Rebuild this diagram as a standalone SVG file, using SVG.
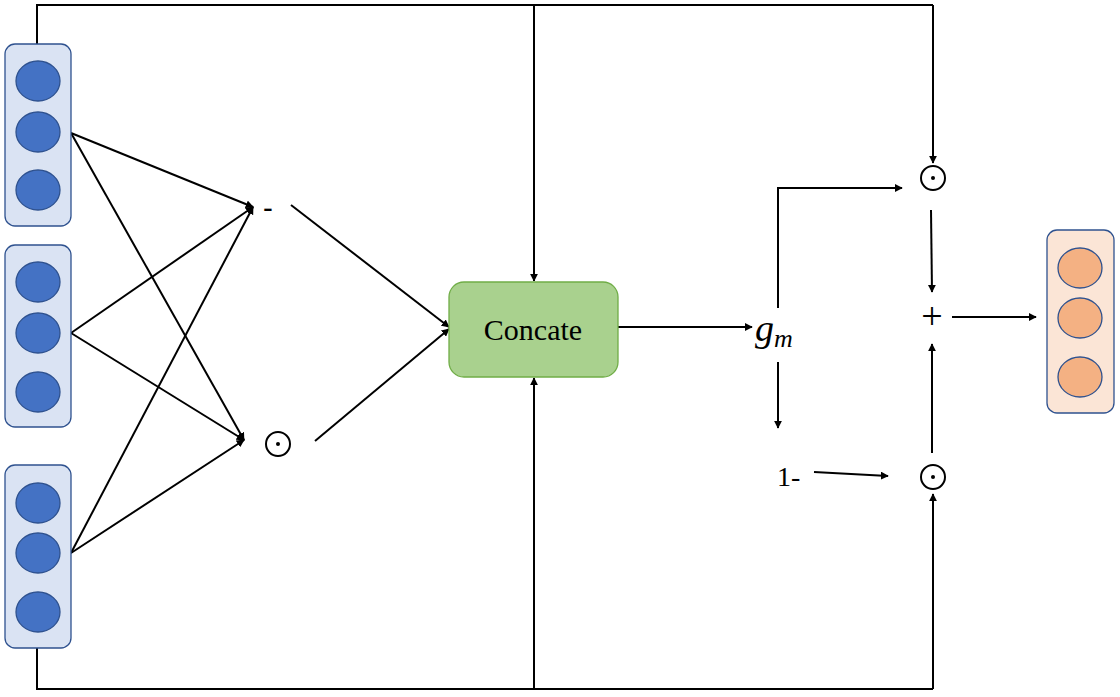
<svg xmlns="http://www.w3.org/2000/svg" width="1120" height="697" viewBox="0 0 1120 697">
<defs>
<marker id="ah" viewBox="0 0 10 10" refX="9" refY="5" markerWidth="8" markerHeight="8" markerUnits="userSpaceOnUse" orient="auto">
<path d="M0,0 L10,5 L0,10 z" fill="#000"/>
</marker>
<style>
.vec{fill:#dae3f3;stroke:#2f528f;stroke-width:1.3}
.dot{fill:#4472c4;stroke:#2f528f;stroke-width:1.3}
.out{fill:#fbe5d6;stroke:#2f528f;stroke-width:1.3}
.odot{fill:#f4b183;stroke:#2f528f;stroke-width:1.3}
.ln{fill:none;stroke:#000;stroke-width:2}
.ar{fill:none;stroke:#000;stroke-width:2;marker-end:url(#ah)}
.op{fill:none;stroke:#000;stroke-width:2}
.t{font-family:"Liberation Serif",serif;fill:#000}
</style>
</defs>
<rect width="1120" height="697" fill="#fff"/>

<g id="connectors">
<polyline class="ln" points="37,44 37,5 933,5"/>
<line class="ar" x1="534" y1="5" x2="534" y2="281"/>
<line class="ar" x1="933" y1="5" x2="933" y2="163"/>
<polyline class="ln" points="37,648 37,689 933,689"/>
<line class="ar" x1="534" y1="689" x2="534" y2="378"/>
<line class="ar" x1="933" y1="689" x2="933" y2="494"/>
<line class="ar" x1="71" y1="133" x2="253" y2="207"/>
<line class="ar" x1="71" y1="133" x2="244" y2="440"/>
<line class="ar" x1="71" y1="333" x2="253" y2="207"/>
<line class="ar" x1="71" y1="333" x2="244" y2="440"/>
<line class="ar" x1="71" y1="553" x2="253" y2="207"/>
<line class="ar" x1="71" y1="553" x2="244" y2="440"/>
<line class="ar" x1="291" y1="205" x2="449" y2="327"/>
<line class="ar" x1="315" y1="441" x2="449" y2="329"/>
<line class="ar" x1="618" y1="327" x2="752" y2="327"/>
<polyline class="ar" points="778,308 778,188 902,188"/>
<line class="ar" x1="778" y1="362" x2="778" y2="428"/>
<line class="ar" x1="814" y1="472" x2="888" y2="476"/>
<line class="ar" x1="931" y1="210" x2="932" y2="292"/>
<line class="ar" x1="932" y1="453" x2="932" y2="344"/>
<line class="ar" x1="952" y1="317" x2="1036" y2="317"/>
</g>

<g id="vec1">
<rect class="vec" x="5" y="44" width="66" height="182" rx="10"/>
<ellipse class="dot" cx="38" cy="81" rx="22" ry="20"/>
<ellipse class="dot" cx="38" cy="132" rx="22" ry="20"/>
<ellipse class="dot" cx="38" cy="190" rx="22" ry="20"/>
</g>
<g id="vec2">
<rect class="vec" x="5" y="245" width="66" height="182" rx="10"/>
<ellipse class="dot" cx="38" cy="282" rx="22" ry="20"/>
<ellipse class="dot" cx="38" cy="333" rx="22" ry="20"/>
<ellipse class="dot" cx="38" cy="392" rx="22" ry="20"/>
</g>
<g id="vec3">
<rect class="vec" x="5" y="465" width="66" height="183" rx="10"/>
<ellipse class="dot" cx="38" cy="503" rx="22" ry="20"/>
<ellipse class="dot" cx="38" cy="553" rx="22" ry="20"/>
<ellipse class="dot" cx="38" cy="612" rx="22" ry="20"/>
</g>

<g id="minus">
<text class="t" x="268" y="216" font-size="28" text-anchor="middle" font-weight="bold">-</text>
</g>
<g id="hadamard1">
<circle class="op" cx="278" cy="444" r="12"/>
<circle cx="278" cy="444" r="2" fill="#000"/>
</g>

<g id="concate">
<rect x="449" y="282" width="169" height="95" rx="15" fill="#a9d18e" stroke="#70ad47" stroke-width="1.3"/>
<text class="t" x="533" y="340" font-size="30" text-anchor="middle">Concate</text>
</g>

<g id="gm">
<text class="t" x="755" y="341" font-size="38" font-style="italic">g<tspan font-size="26" dy="6">m</tspan></text>
</g>

<g id="oneminus">
<text class="t" x="777" y="486" font-size="28">1-</text>
</g>

<g id="hadamard2">
<circle class="op" cx="933" cy="178" r="12"/>
<circle cx="933" cy="178" r="2" fill="#000"/>
</g>
<g id="plus">
<text class="t" x="932" y="329" font-size="38" text-anchor="middle" fill="#333">+</text>
</g>
<g id="hadamard3">
<circle class="op" cx="933" cy="477" r="12"/>
<circle cx="933" cy="477" r="2" fill="#000"/>
</g>

<g id="output">
<rect class="out" x="1047" y="230" width="67" height="183" rx="10"/>
<ellipse class="odot" cx="1080" cy="268" rx="22" ry="20"/>
<ellipse class="odot" cx="1080" cy="318" rx="22" ry="20"/>
<ellipse class="odot" cx="1080" cy="377" rx="22" ry="20"/>
</g>
</svg>
